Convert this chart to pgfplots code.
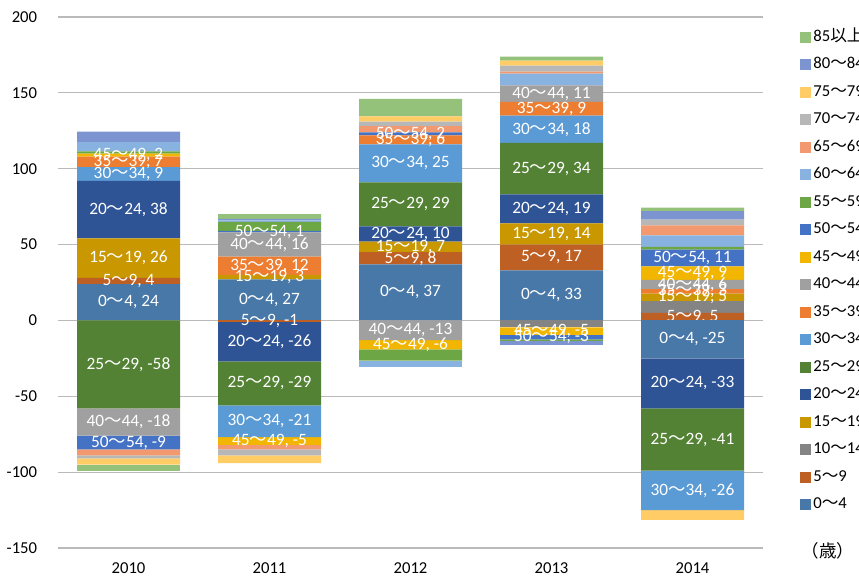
\documentclass[border=0pt]{standalone}
\usepackage{fontspec}
\setmainfont{Carlito}
\newfontfamily\cjk{Noto Sans CJK JP}
\usepackage{pgfplots}
\usepackage{pgfplotstable}
\pgfplotsset{compat=1.18}

\newcommand\wv{{\cjk 〜}}

\definecolor{c0}{HTML}{4878A8}
\definecolor{c5}{HTML}{BE5F23}
\definecolor{c10}{HTML}{848484}
\definecolor{c15}{HTML}{C99800}
\definecolor{c20}{HTML}{2F5496}
\definecolor{c25}{HTML}{548235}
\definecolor{c30}{HTML}{5B9BD5}
\definecolor{c35}{HTML}{ED7D31}
\definecolor{c40}{HTML}{A0A0A0}
\definecolor{c45}{HTML}{F2B600}
\definecolor{c50}{HTML}{4472C4}
\definecolor{c55}{HTML}{6DA644}
\definecolor{c60}{HTML}{88B2E0}
\definecolor{c65}{HTML}{F2996F}
\definecolor{c70}{HTML}{B7B7B7}
\definecolor{c75}{HTML}{FFCC66}
\definecolor{c80}{HTML}{7C94D0}
\definecolor{c85}{HTML}{95C27B}

% positive parts (stacked upward)
\pgfplotstableread{
x a0 a5 a10 a15 a20 a25 a30 a35 a40 a45 a50 a55 a60 a65 a70 a75 a80 a85
0 24 4  0   26  38  0   9   7   0   2   0   1.5 6   0   0   0   7   0
1 27 0  0   3   0   0   0   12  16  0   1   6   1   0   0   0   1   3
2 37 8  0   7   10  29  25  6   0   0   2   0   0   4   3   3.5 0   11.5
3 33 17 0   14  19  34  18  9   11  0   0   0   7.7 1.3 4   3.3 0   2.6
4 0  5  7.7 5   0   0   0   3   6   9   11  1.7 7.7 6.6 3.7 0   5.7 2.2
}\pos
% negative parts (stacked downward)
\pgfplotstableread{
x a0  a5 a10  a15 a20 a25 a30 a35 a40 a45 a50 a55  a60 a65 a70 a75  a80 a85
0 0   0  0    0   0   -58 0   0   -18 0   -9  0    0   -4  -2  -4   0   -4
1 0   -1 0    0   -26 -29 -21 0   0   -5  0   0    0   -3  -4  -5   0   0
2 0   0  0    0   0   0   0   0   -13 -6  0   -7.5 -4  0   0   0    0   0
3 0   0  -4.5 0   0   0   0   0   0   -5  -3  -1   0   0   0   0    -3  0
4 -25 0  0    0   -33 -41 -26 0   0   0   0   0    0   0   0   -6.5 0   0
}\neg

\pgfplotsset{
  base/.style={
    scale only axis, width=423pt, height=318.6pt,
    at={(0,0)}, anchor=south west,
    xmin=-0.5, xmax=4.5, ymin=-150, ymax=200,
    ybar stacked, bar width=61.8pt,
    visualization depends on={rawy \as \rawy},
    every node near coord/.append style={font=\fontsize{10.4}{12}\selectfont,
      text=white, anchor=center, inner sep=0pt},
  },
  lab/.style={nodes near coords={\pgfmathtruncatemacro\v{round(\rawy)}%
    \ifnum\v=0 \else#1, \v\fi}},
  sw/.style={fill=#1, draw=none,
    legend image code/.code={\fill[fill=#1] (0pt,-3.3pt) rectangle (6.6pt,3.3pt);}},
}

\begin{document}
\begin{tikzpicture}
\clip (-34.8pt,-18pt) rectangle (480.6pt,328.8pt);
\begin{axis}[base,
  xtick={0,1,2,3,4}, xticklabels={2010,2011,2012,2013,2014},
  ytick={-150,-100,-50,0,50,100,150,200},
  yticklabels={-150,-100,-50,0,50,100,150,200},
  tick label style={font=\fontsize{10}{12}\selectfont},
  xticklabel style={yshift=-5pt},
  yticklabel style={xshift=-9pt},
  tick style={draw=none},
  axis line style={draw=none},
  ymajorgrids, grid style={color=black!27, line width=0.7pt},
  reverse legend,
  legend cell align=left,
  legend style={at={(1.0525,0.9765)}, anchor=north west, draw=none, fill=none,
    inner sep=0pt, row sep=7.5pt,
    font=\fontsize{10}{11}\selectfont,
    nodes={inner xsep=1.2pt, inner ysep=0pt, text height=7pt, text depth=2pt}},
]
\addplot[sw=c0, lab=0\wv4] table[y=a0]{\pos};
\addlegendentry{0\wv4}
\addplot[sw=c5, lab=5\wv9] table[y=a5]{\pos};
\addlegendentry{5\wv9}
\addplot[sw=c10] table[y=a10]{\pos};
\addlegendentry{10\wv14}
\addplot[sw=c15, lab=15\wv19] table[y=a15]{\pos};
\addlegendentry{15\wv19}
\addplot[sw=c20, lab=20\wv24] table[y=a20]{\pos};
\addlegendentry{20\wv24}
\addplot[sw=c25, lab=25\wv29] table[y=a25]{\pos};
\addlegendentry{25\wv29}
\addplot[sw=c30, lab=30\wv34] table[y=a30]{\pos};
\addlegendentry{30\wv34}
\addplot[sw=c35, lab=35\wv39] table[y=a35]{\pos};
\addlegendentry{35\wv39}
\addplot[sw=c40, lab=40\wv44] table[y=a40]{\pos};
\addlegendentry{40\wv44}
\addplot[sw=c45, lab=45\wv49] table[y=a45]{\pos};
\addlegendentry{45\wv49}
\addplot[sw=c50, lab=50\wv54] table[y=a50]{\pos};
\addlegendentry{50\wv54}
\addplot[sw=c55] table[y=a55]{\pos};
\addlegendentry{55\wv59}
\addplot[sw=c60] table[y=a60]{\pos};
\addlegendentry{60\wv64}
\addplot[sw=c65] table[y=a65]{\pos};
\addlegendentry{65\wv69}
\addplot[sw=c70] table[y=a70]{\pos};
\addlegendentry{70\wv74}
\addplot[sw=c75] table[y=a75]{\pos};
\addlegendentry{75\wv79}
\addplot[sw=c80] table[y=a80]{\pos};
\addlegendentry{80\wv84}
\addplot[sw=c85] table[y=a85]{\pos};
\addlegendentry{85{\cjk 以上}}
\end{axis}
\begin{axis}[base, hide axis]
\addplot[sw=c0, lab=0\wv4] table[y=a0]{\neg};
\addplot[sw=c5, lab=5\wv9] table[y=a5]{\neg};
\addplot[sw=c10] table[y=a10]{\neg};
\addplot[sw=c15, lab=15\wv19] table[y=a15]{\neg};
\addplot[sw=c20, lab=20\wv24] table[y=a20]{\neg};
\addplot[sw=c25, lab=25\wv29] table[y=a25]{\neg};
\addplot[sw=c30, lab=30\wv34] table[y=a30]{\neg};
\addplot[sw=c35, lab=35\wv39] table[y=a35]{\neg};
\addplot[sw=c40, lab=40\wv44] table[y=a40]{\neg};
\addplot[sw=c45, lab=45\wv49] table[y=a45]{\neg};
\addplot[sw=c50, lab=50\wv54] table[y=a50]{\neg};
\addplot[sw=c55] table[y=a55]{\neg};
\addplot[sw=c60] table[y=a60]{\neg};
\addplot[sw=c65] table[y=a65]{\neg};
\addplot[sw=c70] table[y=a70]{\neg};
\addplot[sw=c75] table[y=a75]{\neg};
\addplot[sw=c80] table[y=a80]{\neg};
\addplot[sw=c85] table[y=a85]{\neg};
\end{axis}
\node[font=\fontsize{10.5}{11}\cjk, anchor=center] at (462pt,-1.8pt) {（歳）};
\end{tikzpicture}
\end{document}
